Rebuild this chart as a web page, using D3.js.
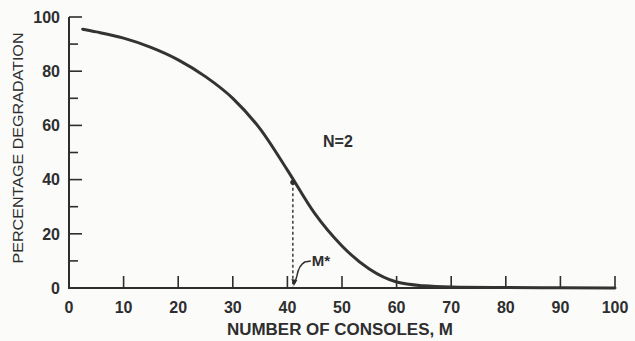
<!doctype html>
<html lang="en">
  <head>
    <meta charset="UTF-8" />
    <title>Percentage degradation vs number of consoles</title>
    <script src="https://d3js.org/d3.v7.min.js"></script>
    <style>
      body {
        margin: 0;
        background: #fbfbfa;
      }
      svg {
        display: block;
        font-family: "Liberation Sans", Arial, sans-serif;
      }
      .tick-label {
        font-size: 16px;
        font-weight: bold;
        fill: #2e2e2e;
      }
      .axis-title {
        fill: #2e2e2e;
      }
    </style>
  </head>
  <body>
    <svg width="635" height="341"></svg>

    <script>
      // values
      const consoles = [2.5, 5, 10, 15, 20, 25, 30, 35, 40, 45, 50, 55, 60, 65, 70, 80, 90, 100];
      const degradation = [95.5, 94.5, 92.2, 88.8, 84.2, 78, 70, 58.7, 43.5, 27.5, 15.5, 7, 2.2, 0.8, 0.4, 0.2, 0.1, 0];
      const xTicks = [0, 10, 20, 30, 40, 50, 60, 70, 80, 90, 100];
      const yTicks = [0, 10, 20, 30, 40, 50, 60, 70, 80, 90, 100];
      const yLabels = [0, 20, 40, 60, 80, 100];
      const mStar = 41;
      const mStarValue = 39;

      const svg = d3.select("svg");
      const ink = "#2e2e2e";

      const x = d3.scaleLinear().domain([0, 100]).range([69, 615]);
      const y = d3.scaleLinear().domain([0, 100]).range([288, 17]);

      const data = consoles.map((c, i) => ({ m: c, d: degradation[i] }));

      // axes drawn by hand to get the inward ticks of the original
      const g = svg.append("g").attr("stroke", ink).attr("fill", "none");

      g.append("line")
        .attr("x1", x(0))
        .attr("x2", x(0))
        .attr("y1", y(100))
        .attr("y2", y(0))
        .attr("stroke-width", 2);
      g.append("line")
        .attr("x1", x(0) - 1)
        .attr("x2", x(100))
        .attr("y1", y(0))
        .attr("y2", y(0))
        .attr("stroke-width", 2.2);

      g.selectAll(".ytick")
        .data(yTicks.filter((t) => t > 0))
        .join("line")
        .attr("class", "ytick")
        .attr("x1", x(0))
        .attr("x2", (d) => x(0) + (d % 20 === 0 ? 13 : 9))
        .attr("y1", (d) => y(d))
        .attr("y2", (d) => y(d))
        .attr("stroke-width", 1.6);

      g.selectAll(".xtick")
        .data(xTicks.filter((t) => t > 0))
        .join("line")
        .attr("class", "xtick")
        .attr("x1", (d) => x(d))
        .attr("x2", (d) => x(d))
        .attr("y1", y(0))
        .attr("y2", y(0) - 12)
        .attr("stroke-width", 1.6);

      svg
        .selectAll(".ylab")
        .data(yLabels)
        .join("text")
        .attr("class", "tick-label")
        .attr("x", x(0) - 9)
        .attr("y", (d) => y(d))
        .attr("dy", "0.36em")
        .attr("text-anchor", "end")
        .text((d) => d);

      svg
        .selectAll(".xlab")
        .data(xTicks)
        .join("text")
        .attr("class", "tick-label")
        .attr("x", (d) => x(d))
        .attr("y", y(0) + 25)
        .attr("text-anchor", "middle")
        .text((d) => d);

      // curve
      const line = d3
        .line()
        .x((d) => x(d.m))
        .y((d) => y(d.d))
        .curve(d3.curveMonotoneX);

      svg
        .append("path")
        .datum(data)
        .attr("d", line)
        .attr("fill", "none")
        .attr("stroke", "#333")
        .attr("stroke-width", 3)
        .attr("stroke-linecap", "round");

      // M* marker
      svg
        .append("line")
        .attr("x1", x(mStar))
        .attr("x2", x(mStar))
        .attr("y1", y(mStarValue))
        .attr("y2", y(0))
        .attr("stroke", ink)
        .attr("stroke-width", 1.4)
        .attr("stroke-dasharray", "3,2.5");
      svg
        .append("circle")
        .attr("cx", x(mStar))
        .attr("cy", y(mStarValue))
        .attr("r", 2.6)
        .attr("fill", ink);

      const ax = x(mStar) + 1;
      const ay = y(0) - 2;
      const leader = d3.path();
      leader.moveTo(ax + 17, ay - 25);
      leader.lineTo(ax + 11, ay - 24);
      leader.quadraticCurveTo(ax + 5, ay - 21, ax + 3, ay - 10);
      leader.lineTo(ax + 1, ay - 3);
      svg
        .append("path")
        .attr("d", leader.toString())
        .attr("fill", "none")
        .attr("stroke", ink)
        .attr("stroke-width", 1.4);
      svg
        .append("path")
        .attr("d", `M${ax},${ay} L${ax - 2.5},${ay - 7} L${ax + 3.5},${ay - 6} Z`)
        .attr("fill", ink);

      svg
        .append("text")
        .attr("x", ax + 18)
        .attr("y", ay - 20)
        .attr("font-size", 15)
        .attr("font-weight", "bold")
        .attr("fill", ink)
        .text("M*");

      svg
        .append("text")
        .attr("x", 323)
        .attr("y", 147)
        .attr("font-size", 16)
        .attr("font-weight", "bold")
        .attr("fill", ink)
        .text("N=2");

      // axis titles
      svg
        .append("text")
        .attr("class", "axis-title")
        .attr("x", 340)
        .attr("y", 335)
        .attr("text-anchor", "middle")
        .attr("font-size", 16)
        .attr("font-weight", "bold")
        .attr("textLength", 226)
        .attr("lengthAdjust", "spacingAndGlyphs")
        .text("NUMBER OF CONSOLES, M");

      svg
        .append("text")
        .attr("class", "axis-title")
        .attr("transform", "translate(23,148) rotate(-90)")
        .attr("text-anchor", "middle")
        .attr("font-size", 15.5)
        .attr("textLength", 231)
        .attr("lengthAdjust", "spacingAndGlyphs")
        .text("PERCENTAGE DEGRADATION");
    </script>
  </body>
</html>
